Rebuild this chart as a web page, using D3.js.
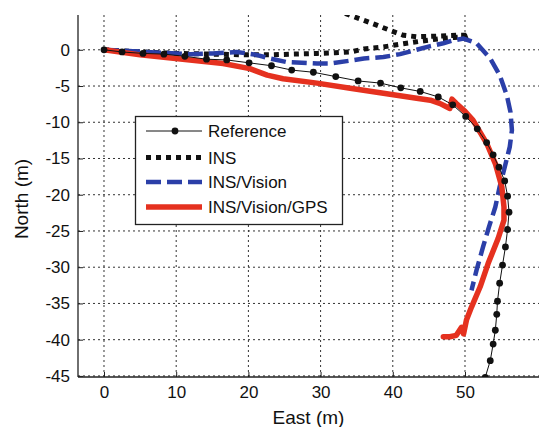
<!DOCTYPE html>
<html>
<head>
<meta charset="utf-8">
<script src="https://cdn.jsdelivr.net/npm/d3@7"></script>
<style>
    html, body { margin: 0; padding: 0; background: #fff; }
    #chart { width: 539px; height: 427px; }
    text { font-family: "Liberation Sans", Arial, Helvetica, sans-serif; fill: #111; }
</style>
</head>
<body>
<div id="chart"></div>
<script>
// trajectories (East, North) in metres
const refEast = [0, 2.5, 5.4, 8.3, 11.2, 14.2, 17.0, 20.1, 23.2, 26.0, 29.0, 32.1, 35.2, 38.3, 41.1, 43.8, 46.3, 48.3, 50.1, 51.7, 53.0, 53.9, 54.7, 55.5, 55.9, 56.1, 55.9, 55.6, 55.2, 54.8, 54.5, 54.4, 54.2, 53.9, 53.5, 52.8];
const refNorth = [0, -0.3, -0.5, -0.6, -0.9, -1.3, -1.4, -1.8, -2.2, -2.8, -3.1, -3.7, -4.3, -4.6, -5.25, -5.75, -6.5, -7.6, -9.2, -10.9, -12.8, -14.5, -16.2, -18.1, -20.2, -22.4, -24.8, -27.2, -29.7, -32.2, -34.7, -36.5, -38.7, -40.6, -42.9, -45.2];

const insEast = [0, 5, 10, 15, 20, 23, 26, 29.5, 32, 34.1, 36, 38.7, 41.9, 44, 46.3, 48.5, 50.2, 50.6, 49, 46.5, 43.3, 41.5, 40.1, 37.5, 34.5, 31.5];
const insNorth = [0, -0.3, -0.5, -0.6, -0.7, -0.7, -0.6, -0.5, -0.4, -0.3, 0.1, 0.4, 0.9, 1.2, 1.5, 1.7, 1.85, 2.0, 2.0, 1.9, 1.8, 2.0, 2.5, 3.5, 4.6, 5.8];

const visEast = [0, 4, 8, 12, 15.1, 18.4, 21.1, 23, 25.3, 29.5, 31.3, 34.1, 36, 38.7, 41, 43.3, 45.2, 47, 48.4, 49.8, 51.6, 53.5, 54.8, 55.8, 56.3, 56.5, 56.2, 55.5, 54.8, 54.2, 53.3, 52.5, 51.6, 50.9];
const visNorth = [0, -0.2, -0.4, -0.6, -0.5, -0.3, -0.7, -1.2, -1.7, -1.9, -1.9, -1.5, -1.2, -1.0, -0.6, 0.0, 0.5, 0.9, 1.3, 1.55, 0.9, -1.2, -3.5, -6.3, -8.6, -11.1, -13.4, -16.2, -18.9, -21.7, -24.5, -27.2, -30.4, -33.2];

const gpsEast = [0, 5, 11.9, 16.5, 20.2, 22.6, 24.8, 29.5, 34.1, 38.7, 43.3, 45.2, 46.5, 47.5, 47.9, 48.2, 48.8, 50.0, 51.1, 53.0, 54.2, 55.1, 55.4, 55.4, 54.6, 53.2, 52.1, 50.9, 50.2, 49.8, 49.5, 48.8, 47.9, 47.0];
const gpsNorth = [0, -0.7, -1.4, -1.9, -2.6, -3.5, -4.0, -4.6, -5.3, -6.0, -6.7, -6.95, -7.4, -7.9, -8.1, -6.8, -7.4, -8.5, -9.7, -12.9, -15.7, -18.9, -21.7, -23.5, -26.0, -29.5, -32.7, -35.5, -37.3, -39.2, -38.3, -39.4, -39.6, -39.6];

const xTicks = [0, 10, 20, 30, 40, 50];
const yTicks = [0, -5, -10, -15, -20, -25, -30, -35, -40, -45];
const seriesNames = ["Reference", "INS", "INS/Vision", "INS/Vision/GPS"];

const width = 539, height = 427;
const plot = { left: 78, right: 539, top: 15, bottom: 377 };

const x = d3.scaleLinear().domain([-3.6, 60.25]).range([plot.left, plot.right]);
const y = d3.scaleLinear().domain([-45.15, 4.8]).range([plot.bottom, plot.top]);

const svg = d3.select("#chart")
    .append("svg")
    .attr("width", width)
    .attr("height", height);

// clip region of the axes
svg.append("clipPath")
    .attr("id", "plot-clip")
    .append("rect")
    .attr("x", plot.left)
    .attr("y", plot.top)
    .attr("width", plot.right - plot.left)
    .attr("height", plot.bottom - plot.top);

// dotted grid
const grid = svg.append("g").attr("class", "grid");
grid.selectAll("line.vgrid")
    .data(xTicks)
    .enter()
    .append("line")
    .attr("x1", d => x(d)).attr("x2", d => x(d))
    .attr("y1", plot.top).attr("y2", plot.bottom)
    .attr("stroke", "#333")
    .attr("stroke-width", 1)
    .attr("stroke-dasharray", "2,3");
grid.selectAll("line.hgrid")
    .data(yTicks)
    .enter()
    .append("line")
    .attr("x1", plot.left).attr("x2", plot.right)
    .attr("y1", d => y(d)).attr("y2", d => y(d))
    .attr("stroke", "#333")
    .attr("stroke-width", 1)
    .attr("stroke-dasharray", "2,3");

// axes (MATLAB style, ticks inside, plain hyphen minus)
const fmt = d => String(d);
const xAxis = d3.axisBottom(x).tickValues(xTicks).tickFormat(fmt).tickSizeInner(-5).tickSizeOuter(0).tickPadding(9);
const yAxis = d3.axisLeft(y).tickValues(yTicks).tickFormat(fmt).tickSizeInner(-5).tickSizeOuter(0).tickPadding(8);

const gx = svg.append("g")
    .attr("transform", `translate(0,${plot.bottom})`)
    .call(xAxis);
const gy = svg.append("g")
    .attr("transform", `translate(${plot.left},0)`)
    .call(yAxis);

[gx, gy].forEach(g => {
    g.select(".domain").attr("stroke", "#222").attr("stroke-width", 1.3);
    g.selectAll(".tick line").attr("stroke", "#222");
    g.selectAll(".tick text")
        .attr("font-size", 17)
        .attr("font-family", "Liberation Sans, Arial, sans-serif")
        .attr("fill", "#111");
});
gy.select(".domain").attr("d", `M0,${plot.top}V${plot.bottom}`);
gx.select(".domain").attr("d", `M${plot.left},0H${plot.right}`);

// axis labels
svg.append("text")
    .attr("x", (plot.left + plot.right) / 2)
    .attr("y", 424)
    .attr("text-anchor", "middle")
    .attr("font-size", 19)
    .text("East (m)");
svg.append("text")
    .attr("transform", `translate(28,${(plot.top + plot.bottom) / 2 + 3}) rotate(-90)`)
    .attr("text-anchor", "middle")
    .attr("font-size", 19)
    .text("North (m)");

// trajectory lines
const line = d3.line()
    .x(d => x(d[0]))
    .y(d => y(d[1]));

const toPoints = (ex, no) => ex.map((e, i) => [e, no[i]]);
const refPts = toPoints(refEast, refNorth);

const traj = svg.append("g").attr("clip-path", "url(#plot-clip)");

const styles = [
    { color: "#111", width: 1, dash: null, cap: "butt" },
    { color: "#111", width: 5, dash: "5,5", cap: "butt" },
    { color: "#2b3fa8", width: 4.5, dash: "15,6", cap: "butt" },
    { color: "#e5311f", width: 5.5, dash: null, cap: "round" }
];

function drawPath(pts, s) {
    traj.append("path")
        .datum(pts)
        .attr("d", line)
        .attr("fill", "none")
        .attr("stroke", s.color)
        .attr("stroke-width", s.width)
        .attr("stroke-linejoin", "round")
        .attr("stroke-linecap", s.cap)
        .attr("stroke-dasharray", s.dash);
}

// INS sits under the other estimates near the start
drawPath(toPoints(insEast, insNorth), styles[1]);
drawPath(toPoints(visEast, visNorth), styles[2]);
drawPath(toPoints(gpsEast, gpsNorth), styles[3]);
drawPath(refPts, styles[0]);

traj.selectAll("circle.ref")
    .data(refPts)
    .enter()
    .append("circle")
    .attr("class", "ref")
    .attr("cx", d => x(d[0]))
    .attr("cy", d => y(d[1]))
    .attr("r", 3.4)
    .attr("fill", "#111");

// legend
const legend = svg.append("g").attr("class", "legend");
legend.append("rect")
    .attr("x", 135.5).attr("y", 116.5)
    .attr("width", 207).attr("height", 108)
    .attr("fill", "#fff")
    .attr("stroke", "#222")
    .attr("stroke-width", 1.3);

const rowY = [131, 157.5, 182, 207];
seriesNames.forEach((name, i) => {
    const s = styles[i];
    legend.append("line")
        .attr("x1", 146).attr("x2", 202)
        .attr("y1", rowY[i]).attr("y2", rowY[i])
        .attr("stroke", s.color)
        .attr("stroke-width", s.width)
        .attr("stroke-dasharray", s.dash);
    if (i === 0) {
        legend.append("circle")
            .attr("cx", 175).attr("cy", rowY[i])
            .attr("r", 3.4).attr("fill", "#111");
    }
    legend.append("text")
        .attr("x", 208)
        .attr("y", rowY[i] + 6)
        .attr("font-size", 17)
        .text(name);
});
</script>
</body>
</html>
